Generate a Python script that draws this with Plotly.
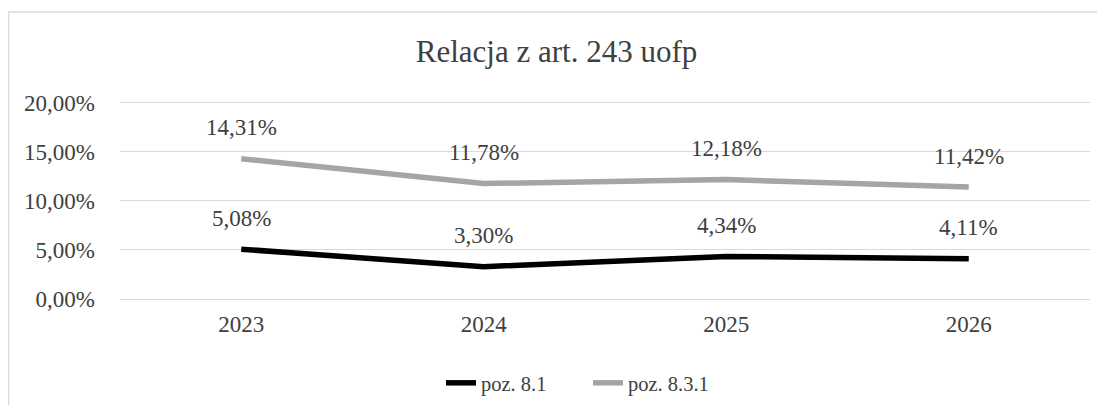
import plotly.graph_objects as go

years = ["2023", "2024", "2025", "2026"]
poz_81 = [5.08, 3.30, 4.34, 4.11]
poz_831 = [14.31, 11.78, 12.18, 11.42]
y_ticks = [0, 5, 10, 15, 20]
y_tick_labels = ["0,00%", "5,00%", "10,00%", "15,00%", "20,00%"]

FONT = "Liberation Serif"
TXT = "#404040"

# page body has an 8px margin: figure pixel = screen pixel - 8
OFF = 8
YMAX = 20.2
PX_PER_UNIT = (299 - 103) / 20.0
W, H = 1105 - OFF, 405 - OFF
L = 120 - OFF
T = round(103 - (YMAX - 20) * PX_PER_UNIT) - OFF
R = W - (1090 - OFF)
B = H - (299 - OFF)
ph = H - T - B
pw = W - L - R

def fmt(v):
    return f"{v:.2f}".replace(".", ",") + "%"

fig = go.Figure()
fig.add_trace(go.Scatter(x=years, y=poz_81, mode="lines", name="poz. 8.1",
                         line=dict(color="#000000", width=5.5)))
fig.add_trace(go.Scatter(x=years, y=poz_831, mode="lines", name="poz. 8.3.1",
                         line=dict(color="#A5A5A5", width=5.5)))

ann = []
for series in (poz_81, poz_831):
    for i, v in enumerate(series):
        ann.append(dict(x=i, y=v, xref="x", yref="y", text=fmt(v), showarrow=False,
                        yshift=31, font=dict(family=FONT, size=23, color=TXT)))

def sx(p):
    return (p - OFF - L) / pw

def sy(p):
    return (H - B - (p - OFF)) / ph

fig.update_layout(
    width=W, height=H,
    margin=dict(l=L, r=R, t=T, b=B, autoexpand=False),
    paper_bgcolor="white", plot_bgcolor="white",
    font=dict(family=FONT, color=TXT),
    title=dict(text="Relacja z art. 243 uofp", x=0.5, xanchor="center",
               y=1 - (51 - OFF) / H, yanchor="middle", yref="container",
               font=dict(family=FONT, size=31, color=TXT)),
    xaxis=dict(type="category", range=[-0.5, 3.5], showgrid=False, zeroline=False,
               showline=False, ticks="", tickfont=dict(family=FONT, size=23, color=TXT),
               ticklabelstandoff=9),
    yaxis=dict(range=[0, YMAX], tickvals=y_ticks, ticktext=y_tick_labels,
               showgrid=True, gridcolor="#D9D9D9", gridwidth=1,
               zeroline=True, zerolinecolor="#D9D9D9", zerolinewidth=1,
               showline=False, ticks="", tickfont=dict(family=FONT, size=23, color=TXT),
               ticklabelstandoff=24),
    legend=dict(orientation="h", x=sx(441), xanchor="left",
                yref="container", y=1 - (383 - OFF) / H,
                yanchor="middle", font=dict(family=FONT, size=20.5, color=TXT),
                entrywidth=102, entrywidthmode="pixels",
                bgcolor="rgba(0,0,0,0)"),
    annotations=ann,
    shapes=[dict(type="rect", xref="paper", yref="paper",
                 x0=sx(8.5), x1=sx(1120),
                 y0=sy(12), y1=sy(420),
                 line=dict(color="#D9D9D9", width=1.5), layer="below")],
)

fig.write_html("out.html")
